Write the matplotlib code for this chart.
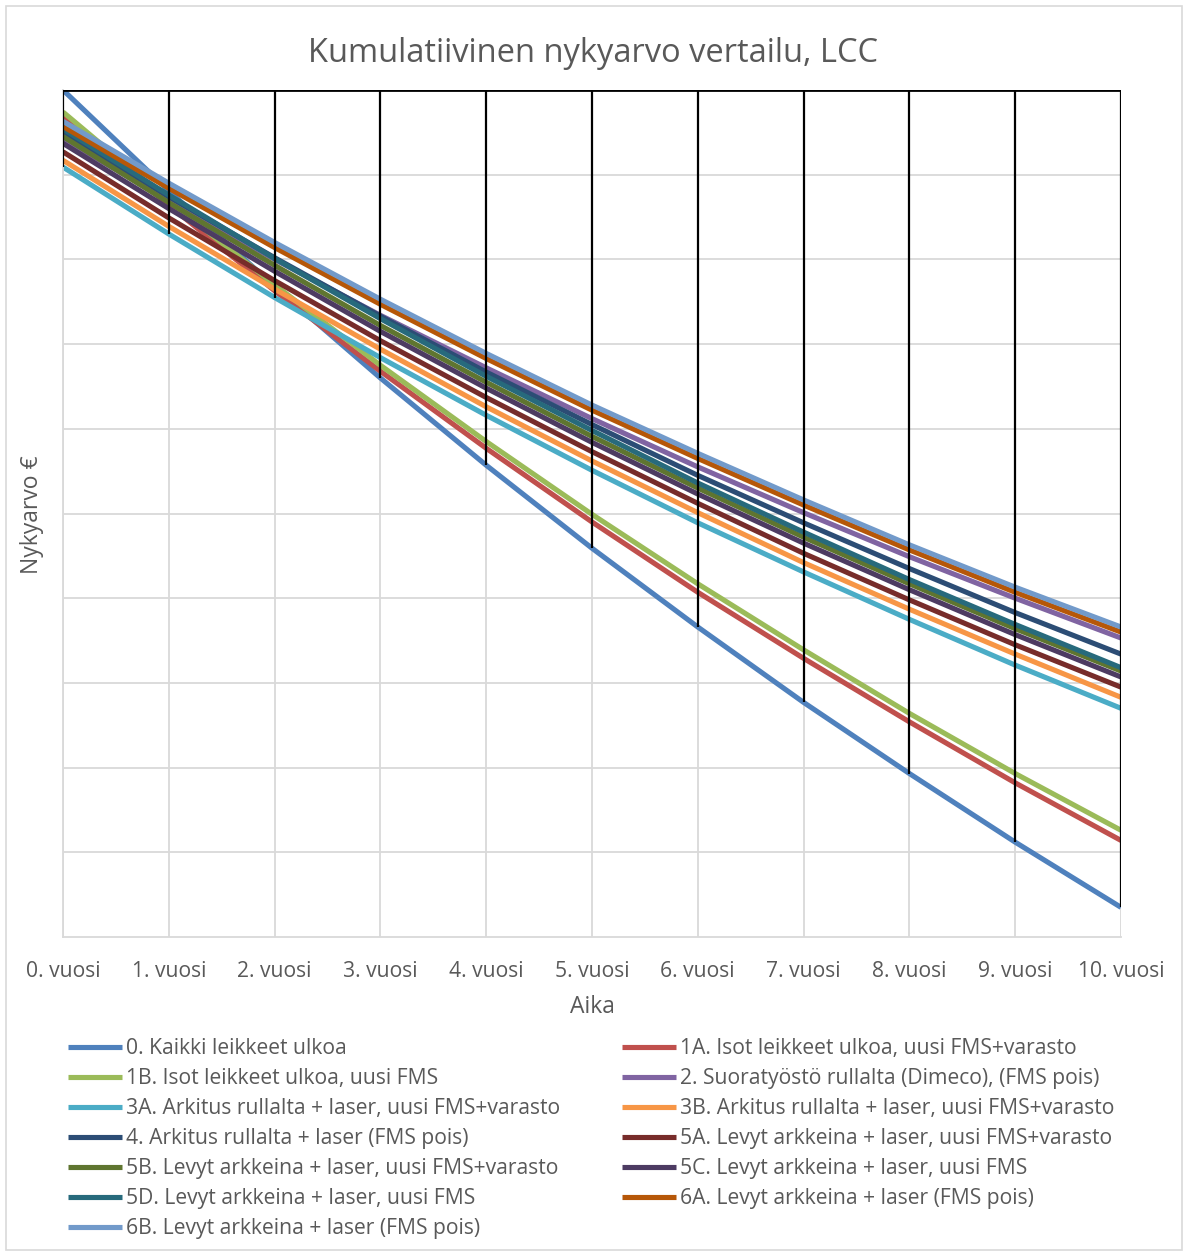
import matplotlib
matplotlib.use("Agg")
import matplotlib.pyplot as plt
from matplotlib.patches import Rectangle

plt.rcParams['font.family'] = ['Open Sans', 'DejaVu Sans']

W, H = 1187, 1254

years = ["0. vuosi", "1. vuosi", "2. vuosi", "3. vuosi", "4. vuosi", "5. vuosi",
         "6. vuosi", "7. vuosi", "8. vuosi", "9. vuosi", "10. vuosi"]

names = ["0. Kaikki leikkeet ulkoa",
         "1A. Isot leikkeet ulkoa, uusi FMS+varasto",
         "1B. Isot leikkeet ulkoa, uusi FMS",
         "2. Suoratyöstö rullalta (Dimeco), (FMS pois)",
         "3A. Arkitus rullalta + laser, uusi FMS+varasto",
         "3B. Arkitus rullalta + laser, uusi FMS+varasto",
         "4. Arkitus rullalta + laser (FMS pois)",
         "5A. Levyt arkkeina + laser, uusi FMS+varasto",
         "5B. Levyt arkkeina + laser, uusi FMS+varasto",
         "5C. Levyt arkkeina + laser, uusi FMS",
         "5D. Levyt arkkeina + laser, uusi FMS",
         "6A. Levyt arkkeina + laser (FMS pois)",
         "6B. Levyt arkkeina + laser (FMS pois)"]

# cumulative net present value (arbitrary units, axis values hidden in original)
s0  = [0, -119, -232, -340, -443, -541, -634, -723, -807, -888, -965]
s1A = [-31, -136, -237, -332, -423, -510, -593, -671, -746, -818, -886]
s1B = [-26, -131, -230, -325, -415, -501, -583, -661, -736, -807, -874]
s2  = [-58, -130, -200, -266, -328, -388, -445, -499, -551, -600, -647]
s3A = [-91, -170, -245, -316, -384, -449, -511, -569, -625, -679, -730]
s3B = [-83, -161, -235, -306, -374, -438, -499, -558, -613, -666, -717]
s4  = [-50, -126, -198, -267, -333, -395, -455, -511, -565, -617, -666]
s5A = [-73, -151, -225, -296, -363, -427, -488, -547, -602, -655, -705]
s5B = [-55, -133, -207, -278, -345, -409, -470, -528, -583, -636, -686]
s5C = [-63, -140, -214, -285, -352, -416, -477, -535, -590, -643, -693]
s5D = [-46, -124, -199, -270, -338, -402, -464, -522, -578, -631, -682]
s6A = [-43, -116, -186, -253, -317, -378, -435, -490, -543, -593, -640]
s6B = [-37, -110, -180, -247, -311, -372, -429, -484, -537, -587, -634]

series = [s0, s1A, s1B, s2, s3A, s3B, s4, s5A, s5B, s5C, s5D, s6A, s6B]
colors = ["#4F81BD", "#C0504D", "#9BBB59", "#8064A2", "#4BACC6", "#F79646",
          "#2C4D75", "#772C2A", "#5F7530", "#4D3B62", "#276A7C", "#B65708",
          "#729ACA"]

fig = plt.figure(figsize=(W / 100, H / 100), dpi=100)
ax = fig.add_axes([63 / W, 1 - 937 / H, (1121 - 63) / W, (937 - 90) / H])

x = list(range(len(years)))
ymin, ymax = -1000, 0
ax.set_xlim(0, 10)
ax.set_ylim(ymin, ymax)

grid_c = "#D9D9D9"
for yv in range(-900, 0, 100):
    ax.axhline(yv, color=grid_c, lw=1.3, zorder=0)
for xv in x:
    ax.axvline(xv, color=grid_c, lw=1.3, zorder=0)

lines = []
for vals, col, nm in zip(series, colors, names):
    ln, = ax.plot(x, vals, color=col, lw=3.7, solid_capstyle='butt', zorder=2, label=nm)
    lines.append(ln)

# high-low style black lines
mins = [min(s[i] for s in series) for i in x]
ax.vlines(x, mins, ymax, color="black", lw=1.6, zorder=3)
ax.hlines(ymax, 0, 10, color="black", lw=2.0, zorder=3)

for sp in ["top", "right"]:
    ax.spines[sp].set_visible(False)
for sp in ["left", "bottom"]:
    ax.spines[sp].set_color(grid_c)
    ax.spines[sp].set_linewidth(1.3)

txt_c = "#595959"
ax.set_yticks(range(-1000, 1, 100))
ax.set_yticklabels([])
ax.set_xticks(x)
ax.set_xticklabels(years, fontsize=15.2, color=txt_c)
ax.tick_params(length=0, pad=17)

fig.text(0.5, 1 - 53 / H, "Kumulatiivinen nykyarvo vertailu, LCC", ha="center", va="center",
         fontsize=23.5, color=txt_c)
fig.text(592 / W, 1 - 1007 / H, "Aika", ha="center", va="center", fontsize=16.5, color=txt_c)
fig.text(32 / W, 1 - 515 / H, "Nykyarvo €", ha="center", va="center", rotation=90,
         fontsize=16.5, color=txt_c)

# legend, row-wise order in two columns
col1 = [0, 2, 4, 6, 8, 10, 12]
col2 = [1, 3, 5, 7, 9, 11]
common = dict(frameon=False, fontsize=15.2, handlelength=2.56, handletextpad=0.19,
              labelspacing=0.43, borderpad=0, borderaxespad=0, labelcolor=txt_c)
leg1 = fig.legend([lines[i] for i in col1], [names[i] for i in col1], loc="upper left",
                  bbox_to_anchor=(68 / W, 1 - 1038 / H), **common)
leg2 = fig.legend([lines[i] for i in col2], [names[i] for i in col2], loc="upper left",
                  bbox_to_anchor=(622 / W, 1 - 1038 / H), **common)

fig.patches.append(Rectangle((6 / W, 4 / H), 1176 / W, 1244 / H, transform=fig.transFigure,
                             fill=False, edgecolor="#D9D9D9", lw=1.2))

fig.savefig("out.png", dpi=100)
